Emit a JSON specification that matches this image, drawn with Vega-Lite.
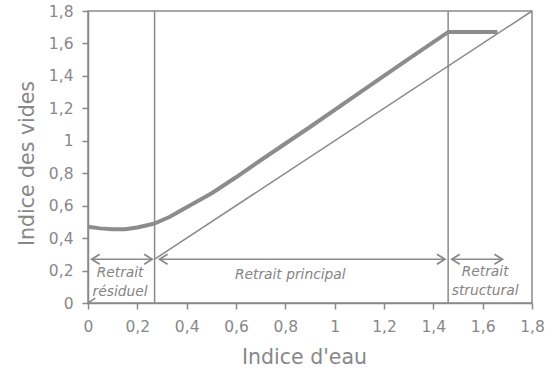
{
  "$schema": "https://vega.github.io/schema/vega-lite/v6.json",
  "width": 444,
  "height": 292,
  "autosize": {"type": "none"},
  "padding": {"left": 88, "top": 11, "right": 19, "bottom": 72},
  "background": "white",
  "config": {
    "view": {"stroke": "#8a8a8a", "strokeWidth": 1.5},
    "font": "DejaVu Sans",
    "axis": {
      "grid": false,
      "domainColor": "#8a8a8a",
      "domainWidth": 1.5,
      "tickColor": "#8a8a8a",
      "tickWidth": 1.5,
      "tickSize": 6,
      "labelColor": "#888888",
      "labelFont": "DejaVu Sans",
      "labelFontSize": 15.5,
      "labelFlush": false,
      "labelBound": false,
      "titleColor": "#888888",
      "titleFont": "DejaVu Sans",
      "titleFontSize": 20.5,
      "titleFontWeight": "normal"
    }
  },
  "datasets": {
    "curve": [
      {"w": 0.0, "e": 0.47},
      {"w": 0.05, "e": 0.46},
      {"w": 0.1, "e": 0.455},
      {"w": 0.15, "e": 0.455},
      {"w": 0.2, "e": 0.465},
      {"w": 0.27, "e": 0.49},
      {"w": 0.33, "e": 0.53},
      {"w": 0.4, "e": 0.59},
      {"w": 0.5, "e": 0.675},
      {"w": 0.6, "e": 0.775},
      {"w": 0.7, "e": 0.88},
      {"w": 0.9, "e": 1.085},
      {"w": 1.1, "e": 1.295},
      {"w": 1.3, "e": 1.505},
      {"w": 1.46, "e": 1.67},
      {"w": 1.66, "e": 1.67}
    ],
    "sat": [
      {"w": 0.0, "e": 0.0, "seg": "a"},
      {"w": 0.03, "e": 0.03, "seg": "a"},
      {"w": 0.27, "e": 0.27, "seg": "b"},
      {"w": 1.8, "e": 1.8, "seg": "b"}
    ],
    "vlines": [{"w": 0.27}, {"w": 1.46}],
    "arrows": [
      {"x1": 0.015, "x2": 0.26, "y": 0.27},
      {"x1": 0.29, "x2": 1.447, "y": 0.27},
      {"x1": 1.475, "x2": 1.68, "y": 0.27}
    ],
    "heads": [
      {"w": 0.015, "e": 0.27, "dir": "left"},
      {"w": 0.26, "e": 0.27, "dir": "right"},
      {"w": 0.29, "e": 0.27, "dir": "left"},
      {"w": 1.447, "e": 0.27, "dir": "right"},
      {"w": 1.475, "e": 0.27, "dir": "left"},
      {"w": 1.68, "e": 0.27, "dir": "right"}
    ],
    "labels": [
      {"w": 0.13, "e": 0.185, "text": "Retrait"},
      {"w": 0.13, "e": 0.07, "text": "résiduel"},
      {"w": 0.82, "e": 0.17, "text": "Retrait principal"},
      {"w": 1.61, "e": 0.19, "text": "Retrait"},
      {"w": 1.61, "e": 0.074, "text": "structural"}
    ]
  },
  "layer": [
    {
      "data": {"name": "sat"},
      "mark": {"type": "line", "color": "#8a8a8a", "strokeWidth": 1.5},
      "encoding": {
        "x": {
          "field": "w", "type": "quantitative",
          "scale": {"domain": [0, 1.8], "nice": false, "zero": false},
          "axis": {
            "title": "Indice d'eau",
            "values": [0, 0.2, 0.4, 0.6, 0.8, 1, 1.2, 1.4, 1.6, 1.8],
            "tickCount": 12,
            "labelExpr": "replace(format(datum.value, '~g'), '.', ',')",
            "labelOverlap": false,
            "labelPadding": 10,
            "titlePadding": 13,
            "titleX": 216
          }
        },
        "y": {
          "field": "e", "type": "quantitative",
          "scale": {"domain": [0, 1.8], "nice": false, "zero": false},
          "axis": {
            "title": "Indice des vides",
            "values": [0, 0.2, 0.4, 0.6, 0.8, 1, 1.2, 1.4, 1.6, 1.8],
            "tickCount": 12,
            "labelExpr": "replace(format(datum.value, '~g'), '.', ',')",
            "labelOverlap": false,
            "labelPadding": 9,
            "titlePadding": 11,
            "titleY": 152
          }
        },
        "detail": {"field": "seg"}
      }
    },
    {
      "data": {"name": "vlines"},
      "mark": {"type": "rule", "color": "#8a8a8a", "strokeWidth": 1.5},
      "encoding": {
        "x": {"field": "w", "type": "quantitative"}
      }
    },
    {
      "data": {"name": "curve"},
      "mark": {"type": "line", "color": "#8c8c8c", "strokeWidth": 4, "strokeJoin": "round"},
      "encoding": {
        "x": {"field": "w", "type": "quantitative"},
        "y": {"field": "e", "type": "quantitative"}
      }
    },
    {
      "data": {"name": "arrows"},
      "mark": {"type": "rule", "color": "#8a8a8a", "strokeWidth": 1.5},
      "encoding": {
        "x": {"field": "x1", "type": "quantitative"},
        "x2": {"field": "x2"},
        "y": {"field": "y", "type": "quantitative"}
      }
    },
    {
      "data": {"name": "heads"},
      "mark": {"type": "point", "filled": false, "color": "#8a8a8a", "strokeWidth": 1.8, "size": 100, "opacity": 1},
      "encoding": {
        "x": {"field": "w", "type": "quantitative"},
        "y": {"field": "e", "type": "quantitative"},
        "shape": {
          "field": "dir", "type": "nominal",
          "scale": {"domain": ["left", "right"], "range": ["M1.6,-1L0,0L1.6,1", "M-1.6,-1L0,0L-1.6,1"]},
          "legend": null
        }
      }
    },
    {
      "data": {"name": "labels"},
      "mark": {"type": "text", "color": "#858585", "fontStyle": "italic", "fontSize": 13.8, "font": "DejaVu Sans", "align": "center", "baseline": "middle"},
      "encoding": {
        "x": {"field": "w", "type": "quantitative"},
        "y": {"field": "e", "type": "quantitative"},
        "text": {"field": "text"}
      }
    }
  ]
}
